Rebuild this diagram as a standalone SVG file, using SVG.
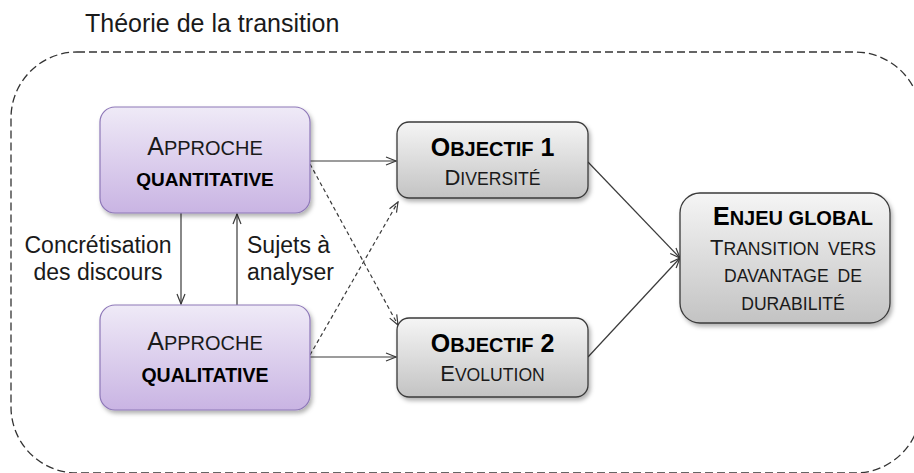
<svg xmlns="http://www.w3.org/2000/svg" width="914" height="473" viewBox="0 0 914 473">
<style>
.t{font-family:"Liberation Sans",Arial,sans-serif;fill:#1a1a1a}
.b{font-weight:bold;fill:#000}
.lbl{font-size:23px}
.c{stroke:#3a3a3a;stroke-width:1.2;fill:none}
.d{stroke-dasharray:4 3}
.pb{fill:url(#gp);stroke:#8e78b8;stroke-width:1.2}
.gb{fill:url(#gg);stroke:#3a3a3a;stroke-width:1.3}
</style>
<defs>
<linearGradient id="gp" x1="0" y1="0" x2="0" y2="1">
<stop offset="0" stop-color="#efeaf7"/>
<stop offset="1" stop-color="#c9b4e3"/>
</linearGradient>
<linearGradient id="gg" x1="0" y1="0" x2="0" y2="1">
<stop offset="0" stop-color="#f5f5f5"/>
<stop offset="1" stop-color="#c3c3c3"/>
</linearGradient>
<filter id="sh" x="-10%" y="-10%" width="130%" height="140%">
<feDropShadow dx="2" dy="3" stdDeviation="2" flood-color="#000" flood-opacity="0.3"/>
</filter>
<marker id="ah" viewBox="0 0 12 10" refX="11" refY="5" markerWidth="12" markerHeight="10" markerUnits="userSpaceOnUse" orient="auto">
<path d="M1,1 L11,5 L1,9" fill="none" stroke="#3a3a3a" stroke-width="1.2"/>
</marker>
</defs>
<rect x="0" y="0" width="914" height="473" fill="#fff"/>

<g id="frame">
<rect x="11" y="52" width="910" height="421" rx="66" ry="66" fill="none" stroke="#333" stroke-width="1.3" stroke-dasharray="8 4"/>
<text class="t" x="85" y="32" font-size="25">Théorie de la transition</text>
</g>

<g id="connectors">
<line class="c" x1="310" y1="161" x2="396" y2="161" marker-end="url(#ah)"/>
<line class="c" x1="310" y1="357" x2="396" y2="357" marker-end="url(#ah)"/>
<line class="c d" x1="310" y1="164" x2="398" y2="325" marker-end="url(#ah)"/>
<line class="c d" x1="310" y1="355" x2="398" y2="202" marker-end="url(#ah)"/>
<line class="c" x1="588" y1="162" x2="680" y2="258" marker-end="url(#ah)"/>
<line class="c" x1="588" y1="357" x2="680" y2="258" marker-end="url(#ah)"/>
<line class="c" x1="181" y1="213" x2="181" y2="304" marker-end="url(#ah)"/>
<line class="c" x1="237" y1="305" x2="237" y2="214" marker-end="url(#ah)"/>
<text class="t lbl" x="98" y="253" text-anchor="middle">Concrétisation</text>
<text class="t lbl" x="98" y="280" text-anchor="middle">des discours</text>
<text class="t lbl" x="247" y="253">Sujets à</text>
<text class="t lbl" x="247" y="280">analyser</text>
</g>

<g id="quanti">
<rect class="pb" x="100" y="107" width="210" height="106" rx="15" filter="url(#sh)"/>
<text class="t" x="205" y="155" text-anchor="middle"><tspan font-size="25">A</tspan><tspan font-size="20">PPROCHE</tspan></text>
<text class="t b" x="205" y="186" text-anchor="middle" font-size="19">QUANTITATIVE</text>
</g>

<g id="quali">
<rect class="pb" x="100" y="305" width="210" height="105" rx="15" filter="url(#sh)"/>
<text class="t" x="205" y="350" text-anchor="middle"><tspan font-size="25">A</tspan><tspan font-size="20">PPROCHE</tspan></text>
<text class="t b" x="205" y="382" text-anchor="middle" font-size="19.5">QUALITATIVE</text>
</g>

<g id="obj1">
<rect class="gb" x="397" y="122" width="191" height="76" rx="12" filter="url(#sh)"/>
<text class="t b" x="492.5" y="155.5" text-anchor="middle"><tspan font-size="25">O</tspan><tspan font-size="20">BJECTIF</tspan><tspan font-size="25"> 1</tspan></text>
<text class="t" x="492.5" y="185" text-anchor="middle"><tspan font-size="22">D</tspan><tspan font-size="17.6">IVERSITÉ</tspan></text>
</g>

<g id="obj2">
<rect class="gb" x="397" y="318" width="191" height="79" rx="12" filter="url(#sh)"/>
<text class="t b" x="492.5" y="351.5" text-anchor="middle"><tspan font-size="25">O</tspan><tspan font-size="20">BJECTIF</tspan><tspan font-size="25"> 2</tspan></text>
<text class="t" x="492.5" y="381" text-anchor="middle"><tspan font-size="22">E</tspan><tspan font-size="17.6">VOLUTION</tspan></text>
</g>

<g id="enjeu">
<rect class="gb" x="680" y="193" width="210" height="130" rx="20" filter="url(#sh)"/>
<text class="t b" x="793" y="225" text-anchor="middle"><tspan font-size="25">E</tspan><tspan font-size="20">NJEU GLOBAL</tspan></text>
<text class="t" x="793" y="255" text-anchor="middle" word-spacing="4"><tspan font-size="22">T</tspan><tspan font-size="17.6">RANSITION VERS</tspan></text>
<text class="t" x="793" y="282" text-anchor="middle" word-spacing="4" font-size="17.6">DAVANTAGE DE</text>
<text class="t" x="793" y="310" text-anchor="middle" font-size="17.6">DURABILITÉ</text>
</g>
</svg>
